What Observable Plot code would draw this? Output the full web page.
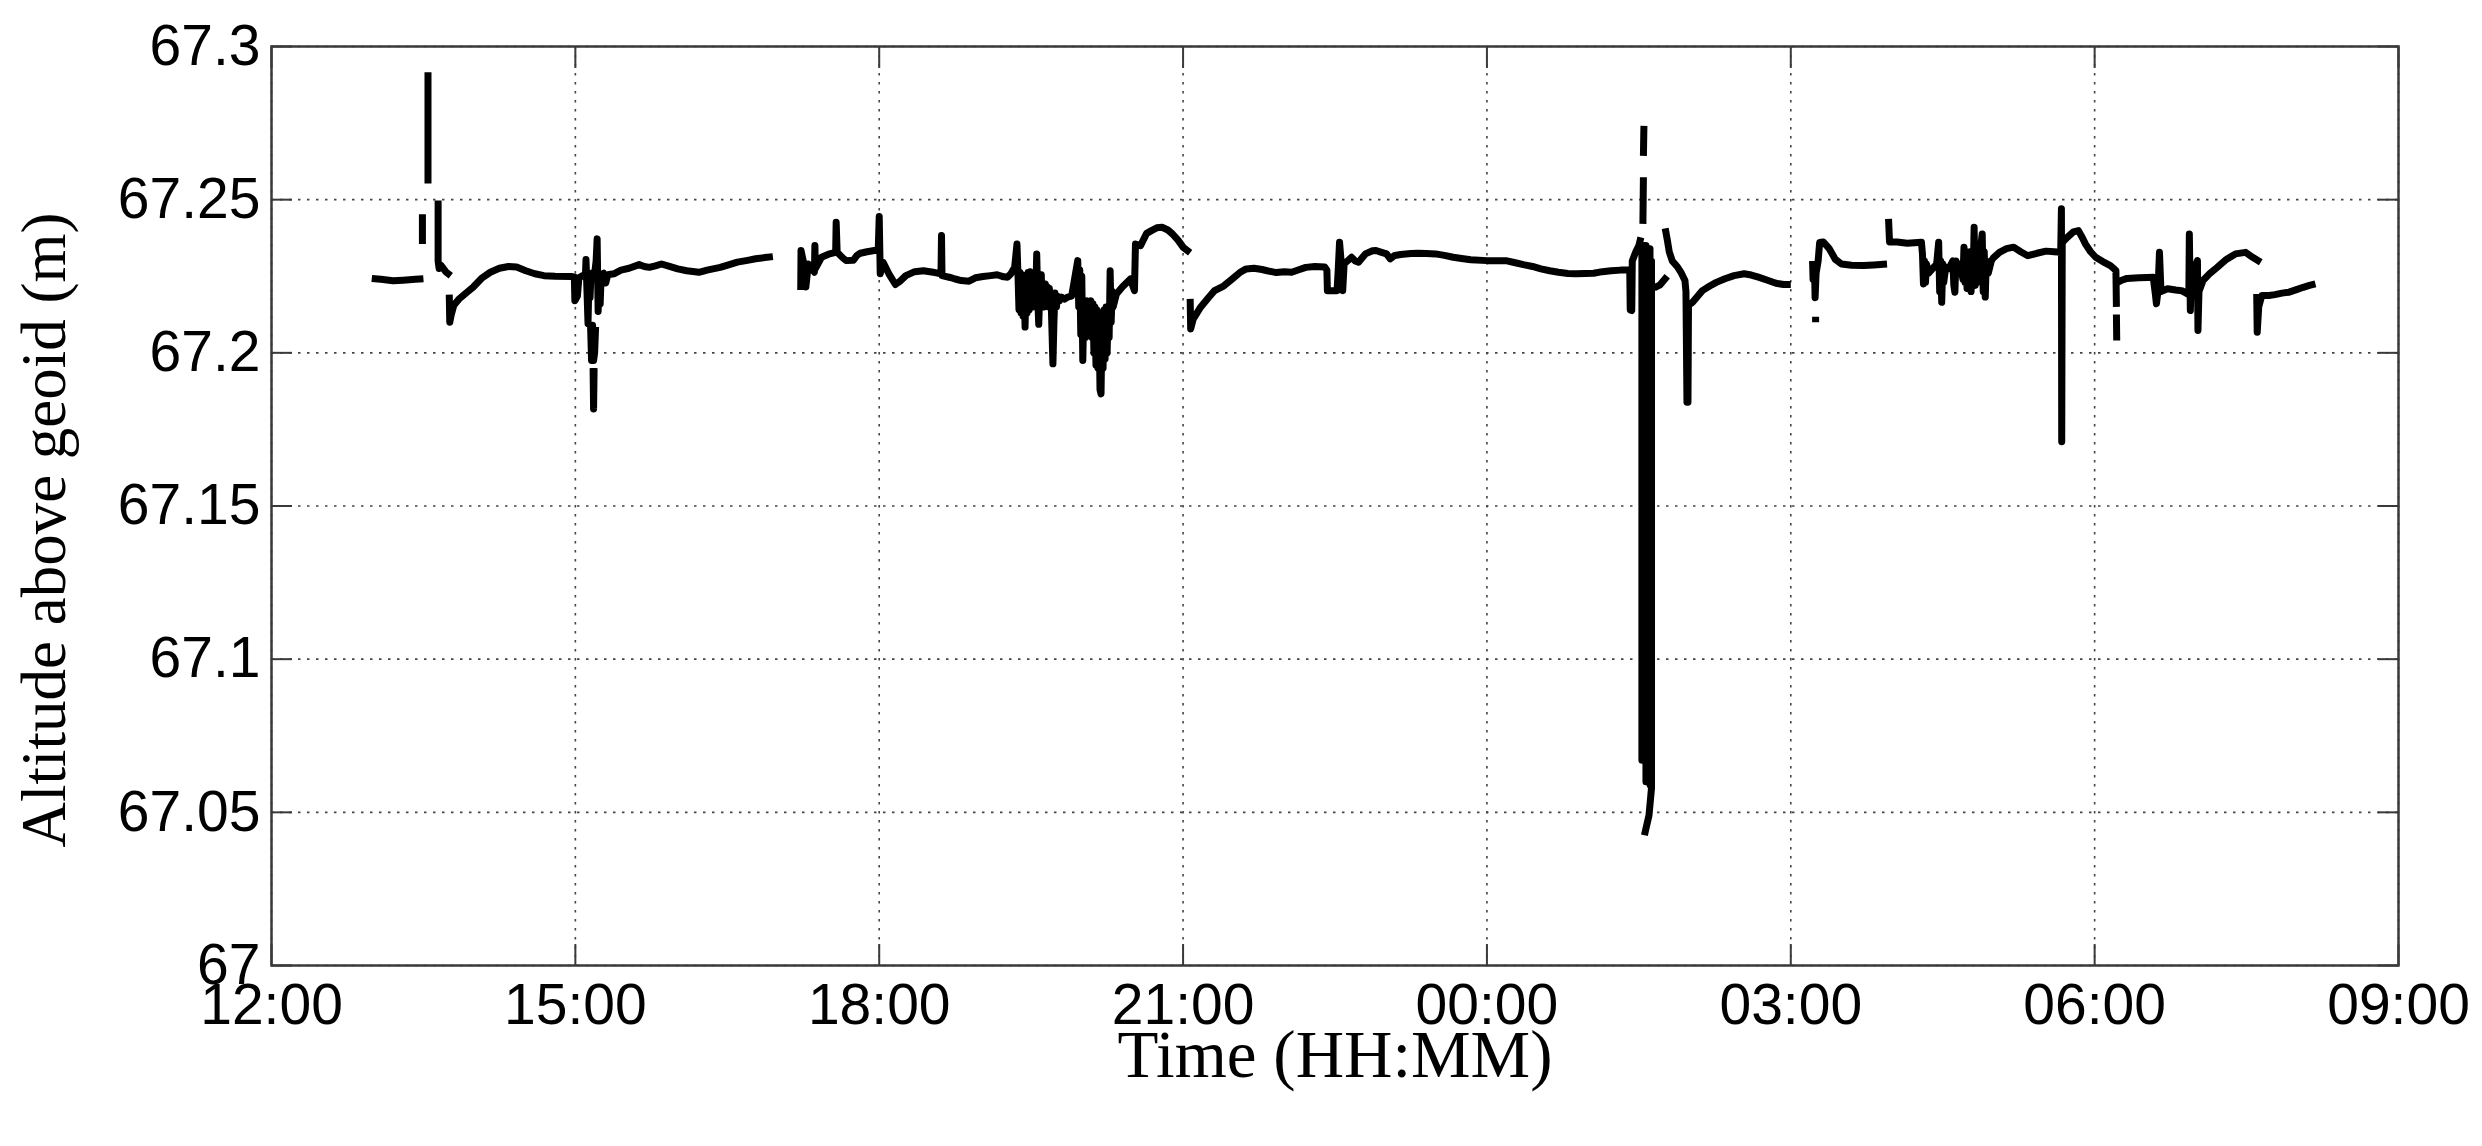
<!DOCTYPE html>
<html>
<head>
<meta charset="utf-8">
<script src="https://cdn.jsdelivr.net/npm/d3@7"></script>
<script src="https://cdn.jsdelivr.net/npm/@observablehq/plot@0.6"></script>
<style>
  html, body { margin: 0; padding: 0; background: #fff; overflow: hidden; }
</style>
</head>
<body>
<div id="chart"></div>
<script>
// Tick values (x in hours since 00:00 of day 1; 24+ = next day)
const xTicks = [12, 15, 18, 21, 24, 27, 30, 33];
const yTicks = [67, 67.05, 67.1, 67.15, 67.2, 67.25, 67.3];

// [hour, altitude above geoid (m)] ; null altitude = data gap
const afternoon = [
  [12.99, 67.2243], [13.08, 67.2240], [13.2, 67.2235], [13.3, 67.2237], [13.42, 67.2240], [13.50, 67.2242], [13.50, null],
  [13.49, 67.2452], [13.49, 67.2355], [13.49, null],
  [13.545, 67.2916], [13.545, 67.2553], [13.545, null],
  [13.645, 67.2497], [13.645, 67.2300], [13.655, 67.2275], [13.675, 67.2285], [13.72, 67.2265], [13.77, 67.2252], [13.77, null],
  [13.755, 67.2190], [13.76, 67.2100], [13.775, 67.2125], [13.80, 67.2155], [13.85, 67.2175], [13.92, 67.2195], [13.99, 67.2214],
  [14.08, 67.2245], [14.16, 67.2263], [14.25, 67.2276], [14.34, 67.2282], [14.42, 67.2280], [14.51, 67.2268], [14.60, 67.2258],
  [14.69, 67.2252], [14.80, 67.2250], [14.96, 67.2249], [14.99, 67.2248], [14.995, 67.2170], [15.02, 67.2185], [15.035, 67.2245],
  [15.07, 67.2252], [15.10, 67.2255], [15.105, 67.2305], [15.115, 67.2200], [15.125, 67.2095], [15.135, 67.2250], [15.145, 67.2180],
  [15.155, 67.2260], [15.17, 67.2240], [15.19, 67.2258], [15.205, 67.2300], [15.215, 67.2372], [15.225, 67.2135], [15.235, 67.2250],
  [15.245, 67.2160], [15.255, 67.2255], [15.28, 67.2260], [15.30, 67.2228], [15.32, 67.2255], [15.38, 67.2258], [15.45, 67.2270],
  [15.53, 67.2276], [15.63, 67.2288], [15.68, 67.2282], [15.73, 67.2279], [15.79, 67.2284], [15.85, 67.2290], [15.93, 67.2282],
  [16.01, 67.2274], [16.10, 67.2268], [16.22, 67.2263], [16.30, 67.2270], [16.43, 67.2279], [16.52, 67.2288], [16.60, 67.2296],
  [16.70, 67.2302], [16.78, 67.2307], [16.87, 67.2311], [16.95, 67.2314], [16.95, null],
  [15.15, 67.2090], [15.16, 67.1975], [15.17, 67.2090], [15.18, 67.1975], [15.19, 67.2000], [15.20, 67.2085], [15.20, null],
  [15.175, 67.1950], [15.18, 67.1817], [15.185, 67.1950], [15.185, null]
];

const evening = [
  [17.225, 67.2205], [17.228, 67.2334], [17.25, 67.2300], [17.276, 67.2215], [17.30, 67.2290], [17.36, 67.2263], [17.365, 67.2350],
  [17.37, 67.2275], [17.43, 67.2312], [17.50, 67.2322], [17.57, 67.2328], [17.575, 67.2426], [17.585, 67.2328], [17.64, 67.2310],
  [17.674, 67.2301], [17.744, 67.2302], [17.78, 67.2318], [17.813, 67.2325], [17.88, 67.2330], [17.952, 67.2334], [17.99, 67.2334],
  [18.0, 67.2445], [18.01, 67.2258], [18.04, 67.2295], [18.10, 67.2255], [18.16, 67.2223], [18.21, 67.2235], [18.263, 67.2252],
  [18.35, 67.2265], [18.436, 67.2268], [18.55, 67.2262], [18.61, 67.2258], [18.615, 67.2383], [18.62, 67.2252], [18.70, 67.2246],
  [18.75, 67.2241], [18.81, 67.2236], [18.887, 67.2234], [18.95, 67.2245], [19.025, 67.2249], [19.10, 67.2252], [19.164, 67.2255],
  [19.23, 67.2248], [19.268, 67.2247], [19.30, 67.2258], [19.337, 67.2279], [19.36, 67.2355], [19.37, 67.2255],
  [19.38, 67.2140], [19.39, 67.2262], [19.40, 67.2130], [19.41, 67.2255], [19.42, 67.2120], [19.43, 67.2250], [19.44, 67.2084],
  [19.45, 67.2250], [19.46, 67.2130], [19.47, 67.2262], [19.48, 67.2140], [19.49, 67.2265], [19.50, 67.2150], [19.51, 67.2245],
  [19.52, 67.2150], [19.53, 67.2240], [19.545, 67.2180], [19.555, 67.2323], [19.565, 67.2180], [19.575, 67.2093], [19.585, 67.2200],
  [19.60, 67.2255], [19.61, 67.2150], [19.62, 67.2225], [19.63, 67.2150], [19.64, 67.2225], [19.65, 67.2160], [19.66, 67.2215],
  [19.67, 67.2150], [19.68, 67.2210], [19.70, 67.2140], [19.715, 67.1964], [19.725, 67.2100], [19.735, 67.2195], [19.75, 67.2150],
  [19.76, 67.2185], [19.78, 67.2170], [19.80, 67.2182], [19.83, 67.2175], [19.86, 67.2182], [19.90, 67.2185],
  [19.96, 67.2301], [19.97, 67.2150], [19.98, 67.2270], [19.99, 67.2060], [20.0, 67.2250], [20.01, 67.1975], [20.02, 67.2150],
  [20.035, 67.2050], [20.05, 67.2170], [20.07, 67.2150], [20.09, 67.2170], [20.10, 67.2050], [20.11, 67.2160], [20.12, 67.2000],
  [20.13, 67.2150], [20.14, 67.1960], [20.15, 67.2140], [20.16, 67.1950], [20.17, 67.2130], [20.18, 67.1880], [20.19, 67.1866],
  [20.20, 67.2100], [20.21, 67.1950], [20.22, 67.2140], [20.23, 67.1980], [20.24, 67.2150], [20.25, 67.2000], [20.26, 67.2140],
  [20.27, 67.2050], [20.28, 67.2268], [20.29, 67.2100], [20.30, 67.2200], [20.31, 67.2150], [20.342, 67.2192], [20.40, 67.2215],
  [20.48, 67.2241], [20.52, 67.2203], [20.53, 67.2355], [20.58, 67.2350], [20.64, 67.2390], [20.688, 67.2399], [20.74, 67.2408],
  [20.792, 67.2410], [20.85, 67.2401], [20.896, 67.2388], [20.95, 67.2368], [21.0, 67.2345], [21.07, 67.2327], [21.07, null]
];

const night = [
  [21.07, 67.2176], [21.075, 67.2078], [21.10, 67.2110], [21.173, 67.2149], [21.25, 67.2180], [21.311, 67.2203], [21.40, 67.2218],
  [21.485, 67.2241], [21.56, 67.2262], [21.623, 67.2274], [21.70, 67.2276], [21.78, 67.2272], [21.831, 67.2268], [21.92, 67.2262],
  [22.0, 67.2265], [22.073, 67.2263], [22.15, 67.2272], [22.212, 67.2279], [22.30, 67.2282], [22.40, 67.2280], [22.42, 67.2270],
  [22.425, 67.2203], [22.47, 67.2203], [22.52, 67.2203], [22.53, 67.2260], [22.545, 67.2361], [22.56, 67.2300], [22.576, 67.2203],
  [22.59, 67.2290], [22.663, 67.2312], [22.70, 67.2300], [22.732, 67.2296], [22.80, 67.2323], [22.87, 67.2333], [22.905, 67.2334],
  [22.96, 67.2328], [23.009, 67.2323], [23.044, 67.2307], [23.09, 67.2318], [23.148, 67.2321], [23.25, 67.2324], [23.321, 67.2325],
  [23.40, 67.2324], [23.494, 67.2323], [23.58, 67.2318], [23.667, 67.2312], [23.75, 67.2308], [23.84, 67.2304], [24.0, 67.2301],
  [24.187, 67.2301], [24.28, 67.2294], [24.36, 67.2288], [24.45, 67.2282], [24.533, 67.2274], [24.62, 67.2268], [24.707, 67.2263],
  [24.80, 67.2259], [24.88, 67.2258], [24.97, 67.2259], [25.053, 67.2260], [25.14, 67.2265], [25.226, 67.2268], [25.32, 67.2270],
  [25.41, 67.2271], [25.415, 67.2140], [25.43, 67.2138], [25.435, 67.2300], [25.47, 67.2330], [25.50, 67.2350], [25.52, 67.2377], [25.52, null],
  [25.54, 67.2421], [25.545, 67.2573], [25.545, null],
  [25.545, 67.2643], [25.55, 67.2741], [25.55, null],
  [25.53, 67.2350], [25.53, 67.0670], [25.55, 67.0670], [25.55, 67.2350], [25.57, 67.2350], [25.57, 67.0600], [25.59, 67.0600],
  [25.59, 67.2340], [25.61, 67.2340], [25.61, 67.0590], [25.625, 67.0580], [25.625, 67.2300], [25.625, 67.0580], [25.60, 67.0490],
  [25.555, 67.0425], [25.555, null],
  [25.65, 67.2212], [25.71, 67.2222], [25.78, 67.2250], [25.78, null],
  [25.76, 67.2406], [25.78, 67.2370], [25.80, 67.2330], [25.83, 67.2300], [25.88, 67.2281], [25.92, 67.2260], [25.955, 67.2236],
  [25.965, 67.2200], [25.975, 67.1839], [25.985, 67.1839], [25.99, 67.2156], [26.03, 67.2165], [26.08, 67.2185], [26.127, 67.2203],
  [26.20, 67.2218], [26.265, 67.2230], [26.35, 67.2242], [26.44, 67.2252], [26.54, 67.2258], [26.61, 67.2254], [26.68, 67.2247],
  [26.77, 67.2237], [26.854, 67.2227], [26.93, 67.2223], [27.0, 67.2223], [27.0, null]
];

const morning = [
  [27.215, 67.2300], [27.22, 67.2240], [27.235, 67.2270], [27.24, 67.2180], [27.25, 67.2260], [27.27, 67.2300], [27.285, 67.2360],
  [27.32, 67.2362], [27.38, 67.2340], [27.44, 67.2305], [27.50, 67.2290], [27.60, 67.2286], [27.72, 67.2285], [27.82, 67.2287],
  [27.95, 67.2290], [27.95, null],
  [27.245, 67.2118], [27.245, 67.2100], [27.245, null],
  [27.965, 67.2437], [27.975, 67.2362], [28.05, 67.2362], [28.15, 67.2358], [28.29, 67.2361],
  [28.30, 67.2323], [28.31, 67.2225], [28.32, 67.2300], [28.33, 67.2230], [28.34, 67.2290], [28.36, 67.2260], [28.40, 67.2275],
  [28.44, 67.2290], [28.46, 67.2361], [28.47, 67.2200], [28.48, 67.2300], [28.49, 67.2165], [28.50, 67.2290], [28.51, 67.2230],
  [28.53, 67.2280], [28.56, 67.2275], [28.60, 67.2300], [28.61, 67.2220], [28.62, 67.2198], [28.63, 67.2300], [28.645, 67.2260],
  [28.67, 67.2290], [28.70, 67.2240], [28.71, 67.2345], [28.72, 67.2230], [28.73, 67.2330], [28.74, 67.2210], [28.75, 67.2320],
  [28.76, 67.2220], [28.77, 67.2330], [28.78, 67.2200], [28.79, 67.2300], [28.80, 67.2220], [28.81, 67.2410], [28.82, 67.2220],
  [28.83, 67.2300], [28.84, 67.2230], [28.86, 67.2300], [28.89, 67.2388], [28.90, 67.2200], [28.91, 67.2330], [28.92, 67.2182],
  [28.93, 67.2300], [28.95, 67.2260], [28.98, 67.2300], [29.0, 67.2310],
  [29.06, 67.2328], [29.13, 67.2340], [29.20, 67.2345], [29.27, 67.2330], [29.34, 67.2317], [29.43, 67.2325], [29.52, 67.2332],
  [29.60, 67.2330], [29.665, 67.2328], [29.672, 67.2470], [29.675, 67.1710], [29.68, 67.2360], [29.73, 67.2377], [29.79, 67.2395],
  [29.84, 67.2399], [29.88, 67.2375], [29.91, 67.2355], [29.96, 67.2330], [30.01, 67.2312], [30.08, 67.2298], [30.155, 67.2285],
  [30.19, 67.2275], [30.21, 67.2268], [30.215, 67.2150], [30.215, null],
  [30.215, 67.2125], [30.218, 67.2040], [30.218, null],
  [30.225, 67.2230], [30.26, 67.2236], [30.32, 67.2243], [30.437, 67.2245], [30.52, 67.2246], [30.578, 67.2247], [30.60, 67.2190],
  [30.61, 67.2160], [30.625, 67.2200], [30.64, 67.2328], [30.655, 67.2200], [30.72, 67.2209], [30.80, 67.2205], [30.86, 67.2203],
  [30.93, 67.2190], [30.935, 67.2388], [30.945, 67.2138], [30.955, 67.2250], [31.015, 67.2301], [31.02, 67.2073], [31.03, 67.2200],
  [31.07, 67.2236], [31.14, 67.2260], [31.21, 67.2279], [31.30, 67.2305], [31.39, 67.2323], [31.49, 67.2328], [31.56, 67.2312],
  [31.64, 67.2296], [31.64, null],
  [31.60, 67.2192], [31.605, 67.2067], [31.62, 67.2150], [31.65, 67.2187], [31.72, 67.2187], [31.78, 67.2190], [31.85, 67.2195],
  [31.92, 67.2198], [32.0, 67.2207], [32.06, 67.2214], [32.12, 67.2220], [32.18, 67.2225]
];

const xTitle = "Time (HH:MM)";
const yTitle = "Altitude above geoid (m)";

const series = [...afternoon, ...evening, ...night, ...morning].map(([h, v]) => ({h, v}));

const fmtHour = h => String(h % 24).padStart(2, "0") + ":00";
const fmtAlt = d => String(+d.toFixed(2));

const tickStyle = {stroke: "#3a3a3a", strokeWidth: 2, tickFormat: () => "", label: null};
const gridStyle = {stroke: "#444", strokeOpacity: 1, strokeWidth: 1.6, strokeDasharray: "2.5,6.5"};

const chart = Plot.plot({
  width: 2482,
  height: 1146,
  marginLeft: 271,
  marginRight: 84,
  marginTop: 46,
  marginBottom: 181,
  style: {background: "#fff", color: "#000", fontFamily: "'Liberation Sans', Arial, sans-serif"},
  x: {domain: [12, 33]},
  y: {domain: [67, 67.3]},
  marks: [
    Plot.gridX(xTicks, gridStyle),
    Plot.gridY(yTicks, gridStyle),
    Plot.axisX(xTicks, {anchor: "bottom", tickSize: 0, tickPadding: 18, tickFormat: fmtHour, fontSize: 57, label: null, fill: "#000"}),
    Plot.axisY(yTicks, {anchor: "left", tickSize: 0, tickPadding: 11, tickFormat: fmtAlt, fontSize: 57, label: null, fill: "#000"}),
    Plot.axisX(xTicks, {anchor: "bottom", tickSize: -21, ...tickStyle}),
    Plot.axisX(xTicks, {anchor: "top", tickSize: -21, ...tickStyle}),
    Plot.axisY(yTicks, {anchor: "left", tickSize: -21, ...tickStyle}),
    Plot.axisY(yTicks, {anchor: "right", tickSize: -21, ...tickStyle}),
    Plot.line(series, {x: "h", y: "v", stroke: "#000", strokeWidth: 7, strokeLinecap: "butt", strokeLinejoin: "round"}),
    Plot.frame({stroke: "#3a3a3a", strokeWidth: 2.5}),
    Plot.text([xTitle], {text: d => d, frameAnchor: "bottom", dy: 90, lineAnchor: "middle", textAnchor: "middle",
      fontFamily: "'Liberation Serif', 'Times New Roman', serif", fontSize: 67, fill: "#000"}),
    Plot.text([yTitle], {text: d => d, frameAnchor: "left", dx: -227, dy: 24, rotate: -90, lineAnchor: "middle", textAnchor: "middle",
      fontFamily: "'Liberation Serif', 'Times New Roman', serif", fontSize: 63, fill: "#000"})
  ]
});

document.getElementById("chart").appendChild(chart);
</script>
</body>
</html>
